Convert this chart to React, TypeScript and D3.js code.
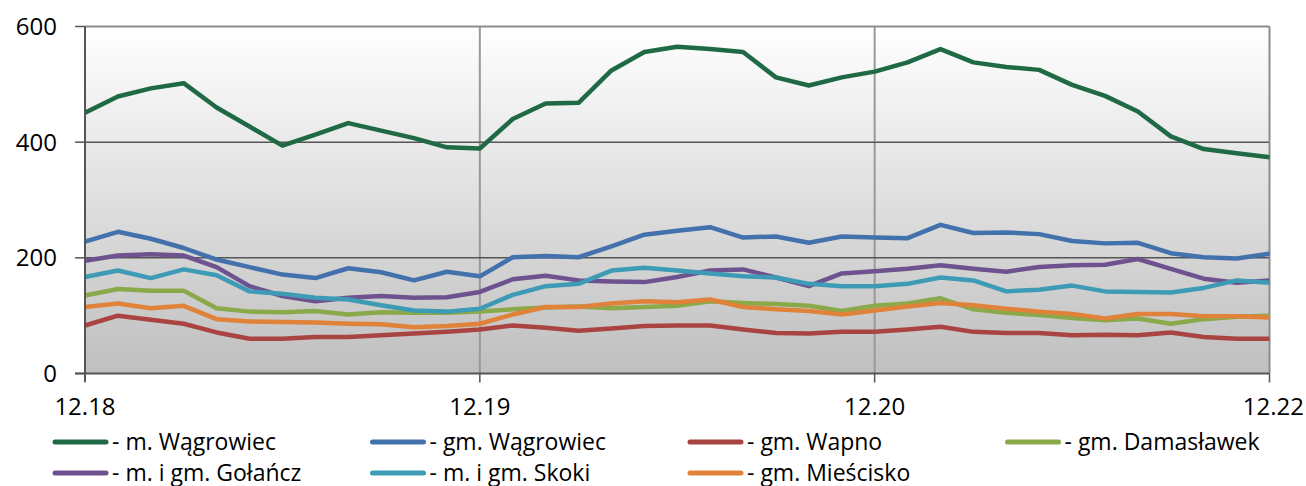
import React from 'react';
import * as d3 from 'd3';

const seriesNames = [
  '- m. Wągrowiec',
  '- gm. Wągrowiec',
  '- gm. Wapno',
  '- gm. Damasławek',
  '- m. i gm. Gołańcz',
  '- m. i gm. Skoki',
  '- gm. Mieścisko',
];

const seriesColors = ['#1f6a45', '#4271ab', '#aa4442', '#89a94a', '#6e5290', '#3d9bb5', '#e0823a'];

const mWagrowiec = [451, 479, 493, 502, 460, 427, 394, 413, 433, 420, 407, 391, 389, 440, 467, 468, 524, 556, 565, 561, 556, 512, 498, 512, 522, 538, 561, 538, 530, 525, 499, 480, 453, 410, 388, 381, 374];
const gmWagrowiec = [228, 245, 233, 217, 197, 184, 171, 165, 182, 175, 161, 176, 168, 201, 203, 201, 220, 240, 247, 253, 235, 237, 226, 237, 235, 234, 257, 243, 244, 241, 229, 225, 226, 208, 201, 199, 207];
const gmWapno = [83, 100, 93, 86, 71, 60, 60, 63, 63, 66, 69, 72, 76, 83, 79, 74, 78, 82, 83, 83, 76, 70, 69, 72, 72, 76, 81, 72, 70, 70, 66, 67, 66, 71, 63, 60, 60];
const gmDamaslawek = [135, 146, 143, 143, 113, 107, 106, 108, 102, 106, 105, 105, 107, 111, 114, 116, 113, 115, 117, 125, 122, 120, 117, 108, 117, 121, 130, 111, 105, 101, 96, 92, 95, 86, 94, 98, 100];
const golancz = [195, 204, 206, 204, 184, 151, 134, 125, 131, 134, 131, 132, 141, 163, 169, 161, 159, 158, 167, 178, 180, 166, 151, 173, 177, 181, 187, 181, 176, 184, 187, 188, 198, 181, 164, 157, 161];
const skoki = [167, 178, 165, 180, 170, 142, 138, 131, 128, 118, 109, 107, 112, 136, 151, 155, 178, 183, 178, 173, 168, 166, 155, 151, 151, 155, 166, 161, 142, 145, 152, 142, 141, 140, 148, 161, 157];
const gmMiescisko = [115, 121, 113, 117, 94, 90, 89, 88, 86, 85, 80, 82, 86, 102, 115, 115, 121, 125, 123, 128, 115, 111, 108, 102, 109, 116, 122, 118, 112, 107, 103, 95, 103, 103, 99, 99, 97];

const seriesValues = [mWagrowiec, gmWagrowiec, gmWapno, gmDamaslawek, golancz, skoki, gmMiescisko];

const xTickIndex = [0, 12, 24, 36];
const xTickLabels = ['12.18', '12.19', '12.20', '12.22'];
const yTicks = [0, 200, 400, 600];

const width = 1306;
const height = 486;
const plot = { left: 85, right: 1269.5, top: 26.5, bottom: 373.5 };
const font = '"Open Sans", "Liberation Sans", sans-serif';

const App: React.FC = () => {
  const indices = d3.range(mWagrowiec.length);
  const x = d3.scalePoint<number>().domain(indices).range([plot.left, plot.right]);
  const y = d3.scaleLinear().domain([0, 600]).range([plot.bottom, plot.top]);

  const line = d3
    .line<number>()
    .x((_, i) => x(i) as number)
    .y((d) => y(d));

  return (
    <svg
      width={width}
      height={height}
      style={{ position: 'absolute', left: 0, top: 0, background: '#fff' }}
      fontFamily={font}
    >
      <defs>
        <linearGradient id="bg" x1="0" y1="0" x2="0" y2="1">
          <stop offset="0%" stopColor="#ffffff" />
          <stop offset="100%" stopColor="#bfbfbf" />
        </linearGradient>
      </defs>

      <rect
        x={plot.left}
        y={plot.top}
        width={plot.right - plot.left}
        height={plot.bottom - plot.top}
        fill="url(#bg)"
      />

      {/* vertical grid */}
      {xTickIndex.slice(1, -1).map((i) => (
        <line key={'vg' + i} x1={x(i)} x2={x(i)} y1={plot.top} y2={plot.bottom} stroke="#999" strokeWidth={2} />
      ))}

      {/* horizontal grid */}
      {yTicks.slice(1, -1).map((t) => (
        <line key={'hg' + t} x1={plot.left} x2={plot.right} y1={y(t)} y2={y(t)} stroke="#555" strokeWidth={1.5} />
      ))}

      {/* frame */}
      <line x1={plot.left} x2={plot.right} y1={plot.top} y2={plot.top} stroke="#8c8c8c" strokeWidth={2} />
      <line x1={plot.right} x2={plot.right} y1={plot.top} y2={plot.bottom} stroke="#8c8c8c" strokeWidth={2} />

      {/* series */}
      {seriesValues.map((vals, s) => (
        <path
          key={'s' + s}
          d={line(vals) || ''}
          fill="none"
          stroke={seriesColors[s]}
          strokeWidth={4.5}
          strokeLinejoin="round"
        />
      ))}

      {/* axes */}
      <line x1={plot.left} x2={plot.left} y1={plot.top} y2={plot.bottom + 8} stroke="#555" strokeWidth={2} />
      <line x1={plot.left - 10} x2={plot.right} y1={plot.bottom} y2={plot.bottom} stroke="#555" strokeWidth={2} />

      {yTicks.map((t) => (
        <g key={'yt' + t}>
          <line x1={plot.left - 10} x2={plot.left} y1={y(t)} y2={y(t)} stroke="#555" strokeWidth={1.5} />
          <text x={57} y={y(t)} dy="0.36em" textAnchor="end" fontSize={24} fill="#000">
            {t}
          </text>
        </g>
      ))}

      {xTickIndex.map((i, k) => (
        <g key={'xt' + i}>
          <line x1={x(i)} x2={x(i)} y1={plot.bottom} y2={plot.bottom + 9} stroke="#555" strokeWidth={1.5} />
          <text
            x={k === xTickIndex.length - 1 ? width - 2 : (x(i) as number)}
            y={415}
            textAnchor={k === xTickIndex.length - 1 ? 'end' : 'middle'}
            fontSize={24}
            fill="#000"
          >
            {xTickLabels[k]}
          </text>
        </g>
      ))}

      {/* legend */}
      {seriesNames.map((name, s) => {
        const col = s < 4 ? s : s - 4;
        const row = s < 4 ? 0 : 1;
        const lx = 53 + col * 317.5;
        const ly = 442 + row * 31;
        return (
          <g key={'lg' + s}>
            <line
              x1={lx + 2}
              x2={lx + 53}
              y1={ly}
              y2={ly}
              stroke={seriesColors[s]}
              strokeWidth={5}
              strokeLinecap="round"
            />
            <text x={lx + 59} y={ly + 7.5} fontSize={23} fill="#000">
              {name}
            </text>
          </g>
        );
      })}
    </svg>
  );
};

export default App;
